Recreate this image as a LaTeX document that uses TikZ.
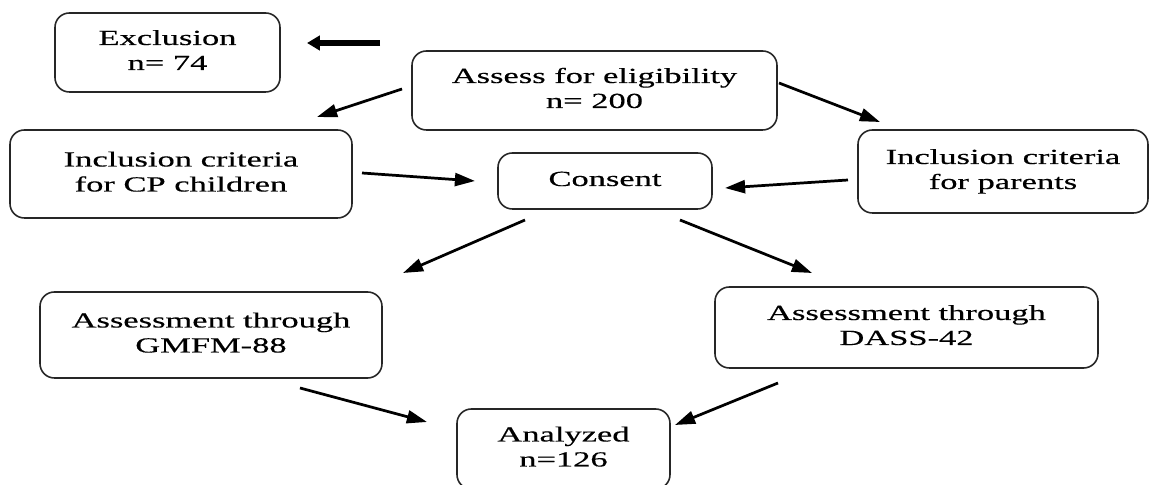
\documentclass[tikz,border=0pt]{standalone}
\usepackage{fontspec}
\usepackage{graphicx}
\setmainfont{Liberation Serif}[UprightFeatures={FakeBold=0.3}]
\usetikzlibrary{arrows.meta}

\newcommand{\pxu}{0.348pt}
% text of the reference is wide and low
\newcommand{\wtext}[1]{\scalebox{1.6}[1]{\begin{tabular}{@{}c@{}}#1\end{tabular}}}

\tikzset{
  flowbox/.style={draw=black!85, rounded corners=5pt, line width=0.55pt, inner sep=0pt,
    font=\fontsize{7.5}{8.7}\selectfont},
  flowarrow/.style={-{Triangle[length=7pt,width=4.5pt]}, line width=0.95pt},
  bigarrow/.style={-{Triangle[length=4.5pt,width=5pt]}, line width=2.4pt}
}

\begin{document}
\begin{tikzpicture}[x=\pxu, y=-\pxu]
\clip (0,0) rectangle (1149,485);

% boxes
\node[flowbox, minimum width=225*\pxu, minimum height=79*\pxu] (excl) at (167.5,52.5) {\wtext{Exclusion\\n= 74}};
\node[flowbox, minimum width=365*\pxu, minimum height=79*\pxu] (assess) at (594.5,90.5) {\wtext{Assess for eligibility\\n= 200}};
\node[flowbox, minimum width=342*\pxu, minimum height=88*\pxu] (cp) at (181,174) {\wtext{Inclusion criteria\\for CP children}};
\node[flowbox, minimum width=214*\pxu, minimum height=56*\pxu] (consent) at (605,181) {\wtext{Consent}};
\node[flowbox, minimum width=290*\pxu, minimum height=83*\pxu] (parents) at (1003,171.5) {\wtext{Inclusion criteria\\for parents}};
\node[flowbox, minimum width=342*\pxu, minimum height=86*\pxu] (gmfm) at (211,335) {\wtext{Assessment through\\GMFM-88}};
\node[flowbox, minimum width=383*\pxu, minimum height=81*\pxu] (dass) at (906.5,327.5) {\wtext{Assessment through\\DASS-42}};
\node[flowbox, minimum width=213*\pxu, minimum height=80*\pxu] (analyzed) at (563.5,449) {\wtext{Analyzed\\n=126}};

% loose arrow ends
\coordinate (excl-in) at (307,43);
\coordinate (excl-from) at (380,43);
\coordinate (assess-l) at (402,89);
\coordinate (cp-top) at (317,117);
\coordinate (assess-r) at (779,83);
\coordinate (parents-top) at (880,122);
\coordinate (cp-r) at (362,173);
\coordinate (consent-l) at (475,181);
\coordinate (parents-l) at (848,180);
\coordinate (consent-r) at (725,188);
\coordinate (consent-bl) at (525,220);
\coordinate (gmfm-top) at (403,273);
\coordinate (consent-br) at (680,220);
\coordinate (dass-top) at (812,273);
\coordinate (gmfm-bot) at (300,388);
\coordinate (analyzed-l) at (427,422);
\coordinate (dass-bot) at (778,383);
\coordinate (analyzed-r) at (675,425);

% arrows
\draw[bigarrow] (excl-from) -- (excl-in);
\draw[flowarrow] (assess-l) -- (cp-top);
\draw[flowarrow] (assess-r) -- (parents-top);
\draw[flowarrow] (cp-r) -- (consent-l);
\draw[flowarrow] (parents-l) -- (consent-r);
\draw[flowarrow] (consent-bl) -- (gmfm-top);
\draw[flowarrow] (consent-br) -- (dass-top);
\draw[flowarrow] (gmfm-bot) -- (analyzed-l);
\draw[flowarrow] (dass-bot) -- (analyzed-r);
\end{tikzpicture}
\end{document}
